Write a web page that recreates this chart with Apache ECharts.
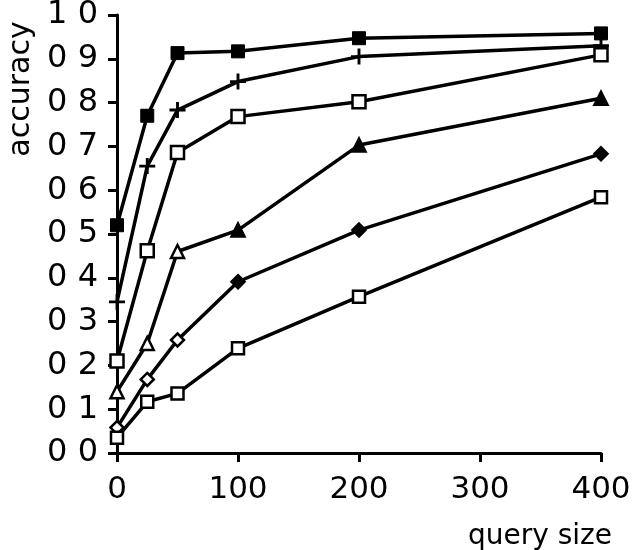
<!DOCTYPE html>
<html>
<head>
<meta charset="utf-8">
<script src="https://cdn.jsdelivr.net/npm/echarts@6/dist/echarts.min.js"></script>
<style>
html,body{margin:0;padding:0;background:#fff;}
#chart{width:632px;height:550px;}
</style>
</head>
<body>
<div id="chart"></div>
<script>
const querySizes = [0, 25, 50, 100, 200, 400];
const seriesFilledSquare = [0.52, 0.77, 0.913, 0.917, 0.947, 0.958];
const seriesPlus        = [0.345, 0.655, 0.783, 0.848, 0.905, 0.93];
const seriesOpenSquare  = [0.21, 0.462, 0.686, 0.768, 0.802, 0.909];
const seriesTriangle    = [0.14, 0.25, 0.46, 0.509, 0.703, 0.81];
const seriesDiamond     = [0.058, 0.168, 0.258, 0.391, 0.509, 0.683];
const seriesSmallSquare = [0.035, 0.117, 0.136, 0.239, 0.357, 0.584];
const xTicks = [0, 100, 200, 300, 400];
const yTicks = [0, 0.1, 0.2, 0.3, 0.4, 0.5, 0.6, 0.7, 0.8, 0.9, 1.0];

const FONT = '"DejaVu Sans ExtraLight", "DejaVu Sans", sans-serif';
const pairs = arr => querySizes.map((x, i) => [x, arr[i]]);
const plusPath = 'path://M4.1,0H5.9V4.1H10V5.9H5.9V10H4.1V5.9H0V4.1H4.1Z';

function mk(data, symbol, size, fill, border) {
  return {
    type: 'line',
    data: pairs(data),
    symbol: symbol,
    symbolSize: size,
    showAllSymbol: true,
    lineStyle: {color: '#000', width: 3.5},
    itemStyle: {color: fill, borderColor: '#000', borderWidth: border},
    z: 3
  };
}
const mixedFill = p => (p.dataIndex < 3 ? '#fff' : '#000');

const chart = echarts.init(document.getElementById('chart'), null, {renderer: 'canvas'});
chart.setOption({
  backgroundColor: '#fff',
  animation: false,
  grid: {left: 117, right: 31, top: 15, bottom: 97, containLabel: false, outerBoundsMode: 'none'},
  xAxis: {
    type: 'value',
    min: 0, max: 400, interval: 100,
    name: 'query size',
    nameLocation: 'end',
    nameGap: 11,
    nameTextStyle: {fontFamily: FONT, fontSize: 28, color: '#000',
      align: 'right', verticalAlign: 'top', padding: [70, 0, 0, 0]},
    axisLine: {lineStyle: {color: '#000', width: 3}},
    axisTick: {inside: false, length: 9, lineStyle: {color: '#000', width: 3}},
    axisLabel: {fontFamily: FONT, fontSize: 31, color: '#000', margin: 21,
      formatter: v => (xTicks.includes(v) ? String(v) : '')},
    splitLine: {show: false}
  },
  yAxis: {
    type: 'value',
    min: 0, max: 1, interval: 0.1,
    name: 'accuracy',
    nameLocation: 'middle',
    nameRotate: 90,
    nameGap: 80,
    nameTextStyle: {fontFamily: FONT, fontSize: 30, color: '#000',
      padding: [0, 0, 0, 290]},
    axisLine: {lineStyle: {color: '#000', width: 3}},
    axisTick: {inside: false, length: 9, lineStyle: {color: '#000', width: 3}},
    axisLabel: {fontFamily: FONT, fontSize: 32, color: '#000', margin: 19,
      formatter: v => {
        const t = yTicks.find(k => Math.abs(k - v) < 1e-6);
        return t === undefined ? '' : t.toFixed(1).replace('.', ' ');
      }},
    splitLine: {show: false}
  },
  series: [
    mk(seriesFilledSquare, 'rect', 13, '#000', 1),
    mk(seriesPlus, plusPath, 16, '#000', 0),
    mk(seriesOpenSquare, 'rect', 13, '#fff', 2.5),
    mk(seriesTriangle, 'triangle', 13, mixedFill, 2.5),
    mk(seriesDiamond, 'diamond', 13, mixedFill, 2.5),
    mk(seriesSmallSquare, 'rect', 12, '#fff', 2.5)
  ]
});
</script>
</body>
</html>
